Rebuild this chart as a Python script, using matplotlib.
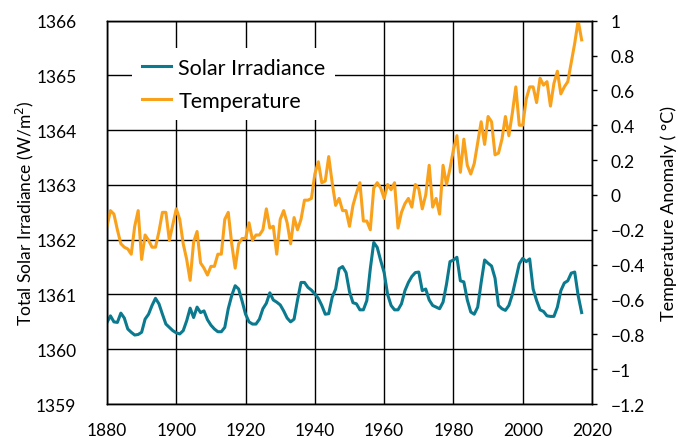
import matplotlib
matplotlib.use('agg')
import matplotlib.pyplot as plt
import numpy as np

plt.rcParams['font.family'] = ['Lato', 'DejaVu Sans']

years = list(range(1880, 2018))

solar = [
    1360.49, 1360.61, 1360.50, 1360.49, 1360.66, 1360.57, 1360.37, 1360.31, 1360.26, 1360.27,  # 1880s
    1360.31, 1360.55, 1360.64, 1360.80, 1360.93, 1360.83, 1360.64, 1360.46, 1360.40, 1360.34,  # 1890s
    1360.30, 1360.28, 1360.34, 1360.52, 1360.75, 1360.58, 1360.77, 1360.67, 1360.70, 1360.54,  # 1900s
    1360.44, 1360.37, 1360.32, 1360.32, 1360.40, 1360.74, 1360.98, 1361.16, 1361.10, 1360.88,  # 1910s
    1360.64, 1360.50, 1360.46, 1360.46, 1360.55, 1360.74, 1360.84, 1361.03, 1360.90, 1360.86,  # 1920s
    1360.81, 1360.70, 1360.57, 1360.50, 1360.55, 1360.90, 1361.22, 1361.22, 1361.13, 1361.08,  # 1930s
    1361.01, 1360.93, 1360.80, 1360.64, 1360.65, 1360.95, 1361.10, 1361.47, 1361.51, 1361.40,  # 1940s
    1361.05, 1360.85, 1360.83, 1360.72, 1360.72, 1360.89, 1361.47, 1361.95, 1361.86, 1361.62,  # 1950s
    1361.40, 1361.00, 1360.80, 1360.72, 1360.72, 1360.83, 1361.07, 1361.22, 1361.33, 1361.40,  # 1960s
    1361.41, 1361.07, 1361.10, 1360.90, 1360.80, 1360.77, 1360.74, 1360.86, 1361.19, 1361.60,  # 1970s
    1361.63, 1361.68, 1361.25, 1361.23, 1360.90, 1360.68, 1360.64, 1360.77, 1361.22, 1361.63,  # 1980s
    1361.57, 1361.52, 1361.30, 1360.80, 1360.74, 1360.71, 1360.80, 1361.00, 1361.28, 1361.56,  # 1990s
    1361.66, 1361.60, 1361.65, 1361.10, 1360.89, 1360.72, 1360.69, 1360.61, 1360.60, 1360.60,  # 2000s
    1360.77, 1361.07, 1361.21, 1361.25, 1361.39, 1361.41, 1360.98, 1360.67,                    # 2010s
]

temp = [
    -0.18, -0.09, -0.11, -0.20, -0.28, -0.30, -0.31, -0.34, -0.18, -0.09,  # 1880s
    -0.37, -0.23, -0.26, -0.30, -0.30, -0.21, -0.10, -0.10, -0.26, -0.17,  # 1890s
    -0.08, -0.14, -0.28, -0.37, -0.49, -0.27, -0.21, -0.39, -0.42, -0.46,  # 1900s
    -0.41, -0.41, -0.34, -0.34, -0.14, -0.10, -0.28, -0.42, -0.28, -0.25,  # 1910s
    -0.25, -0.16, -0.26, -0.23, -0.23, -0.20, -0.08, -0.19, -0.18, -0.34,  # 1920s
    -0.14, -0.09, -0.16, -0.28, -0.13, -0.20, -0.14, -0.03, -0.03, -0.02,  # 1930s
    0.12, 0.19, 0.07, 0.08, 0.22, 0.07, -0.06, -0.02, -0.09, -0.09,        # 1940s
    -0.18, -0.06, 0.01, 0.07, -0.15, -0.15, -0.20, 0.04, 0.07, 0.04,       # 1950s
    -0.02, 0.06, 0.03, 0.07, -0.19, -0.10, -0.05, -0.02, -0.07, 0.06,      # 1960s
    0.035, -0.08, 0.00, 0.17, -0.07, -0.02, -0.11, 0.17, 0.06, 0.15,      # 1970s
    0.26, 0.34, 0.13, 0.32, 0.17, 0.12, 0.18, 0.30, 0.42, 0.29,            # 1980s
    0.45, 0.42, 0.23, 0.24, 0.32, 0.45, 0.34, 0.47, 0.62, 0.40,            # 1990s
    0.40, 0.55, 0.62, 0.62, 0.53, 0.67, 0.63, 0.65, 0.51, 0.64,            # 2000s
    0.71, 0.58, 0.62, 0.65, 0.76, 0.87, 1.00, 0.89,                        # 2010s
]

temp_ticks = [-1.2, -1.0, -0.8, -0.6, -0.4, -0.2, 0.0, 0.2, 0.4, 0.6, 0.8, 1.0]
temp_tick_labels = ['\u22121.2', '\u22121', '\u22120.8', '\u22120.6', '\u22120.4', '\u22120.2',
                    '0', '0.2', '0.4', '0.6', '0.8', '1']

teal = '#0b7a8f'
orange = '#f9a11b'

fig = plt.figure(figsize=(6.78, 4.39), dpi=100)
ax = fig.add_axes([0.1578, 0.0774, 0.7154, 0.8732])
ax2 = ax.twinx()

l1, = ax.plot(years, solar, color=teal, lw=2.2, label='Solar Irradiance')
l2, = ax2.plot(years, temp, color=orange, lw=2.2, label='Temperature')

ax.set_xlim(1880, 2020)
ax.set_ylim(1359, 1366)
ax2.set_ylim(-1.2, 1.0)

ax.set_xticks(range(1880, 2021, 20))
ax.set_yticks(range(1359, 1367))
ax2.set_yticks(temp_ticks)
ax2.set_yticklabels(temp_tick_labels)

ax.grid(True, color='black', lw=1)
ax.set_axisbelow(True)
ax.tick_params(axis='y', length=0, labelsize=12.5, pad=22)
ax.tick_params(axis='x', length=0, labelsize=12.5, pad=13)
ax2.tick_params(axis='y', length=3.6, width=1, labelsize=12.5, pad=10)

for a in (ax, ax2):
    for s in a.spines.values():
        s.set_color('black')
        s.set_linewidth(1)

ax.set_ylabel('Total Solar Irradiance (W/m$^2$)', fontsize=12.5)
ax2.set_ylabel('Temperature Anomaly ( \u00b0C)', fontsize=13)
ax.yaxis.set_label_coords(-0.146, 0.5)
ax2.yaxis.set_label_coords(1.142, 0.5)

leg = ax2.legend(handles=[l1, l2], loc='upper left', bbox_to_anchor=(0.0515, 0.929),
                 frameon=True, fontsize=15.5, handlelength=1.35, handletextpad=0.35,
                 labelspacing=0.6, borderpad=0.45, borderaxespad=0)
leg.get_frame().set_edgecolor('none')
leg.get_frame().set_facecolor('white')
leg.get_frame().set_alpha(1)
leg.get_frame().set_boxstyle('square', pad=0)

plt.savefig('out.png', dpi=100)
